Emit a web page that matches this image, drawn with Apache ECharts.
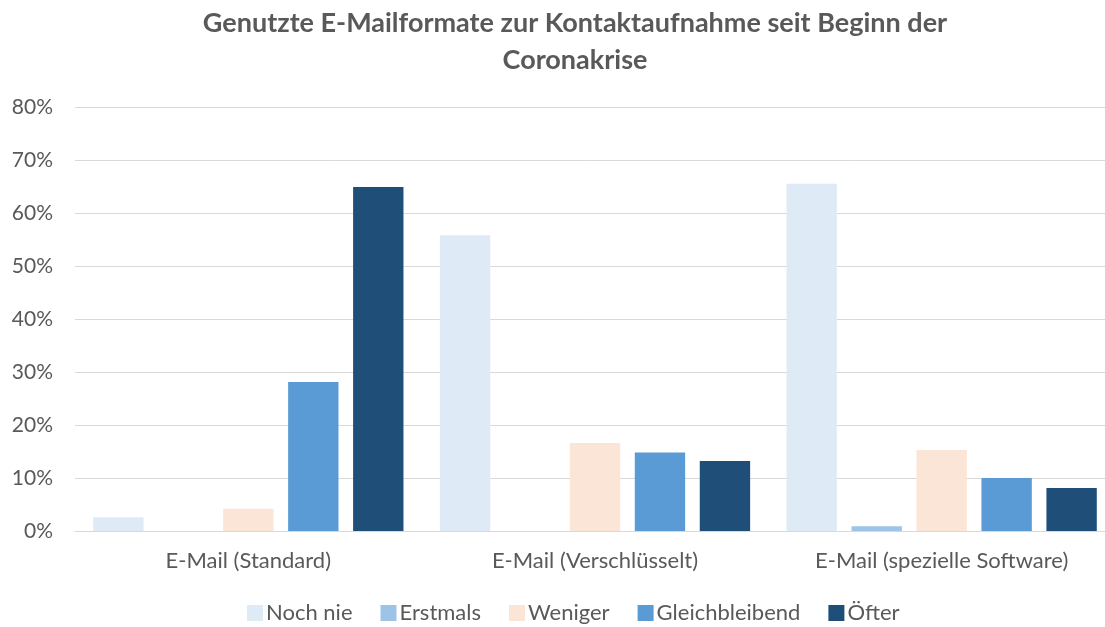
<!DOCTYPE html>
<html>
<head>
<meta charset="utf-8">
<script src="https://cdn.jsdelivr.net/npm/echarts@6/dist/echarts.min.js"></script>
<style>
  html, body { margin: 0; padding: 0; background: #fff; }
  #chart { width: 1105px; height: 627px; }
</style>
</head>
<body>
<div id="chart"></div>
<script>
const categories = ['E-Mail (Standard)', 'E-Mail (Verschlüsselt)', 'E-Mail (spezielle Software)'];
const seriesNames = ['Noch nie', 'Erstmals', 'Weniger', 'Gleichbleibend', 'Öfter'];
const nochNie = [2.6, 55.8, 65.5];
const erstmals = [0, 0, 0.9];
const weniger = [4.2, 16.6, 15.3];
const gleichbleibend = [28.1, 14.8, 10.0];
const oefter = [64.9, 13.2, 8.1];
const yTicks = [0, 10, 20, 30, 40, 50, 60, 70, 80];
const colors = ['#DEEBF7', '#9DC3E6', '#FBE5D6', '#5B9BD5', '#1F4E79'];

const seriesData = [nochNie, erstmals, weniger, gleichbleibend, oefter];
const font = 'Lato, "Open Sans", sans-serif';

let chart = echarts.init(document.getElementById('chart'));
let option = {
    backgroundColor: '#fff',
    animation: false,
    color: colors,
    textStyle: { fontFamily: font },
    title: {
        text: 'Genutzte E-Mailformate zur Kontaktaufnahme seit Beginn der\nCoronakrise',
        left: 570,
        top: 0,
        textAlign: 'center',
        textStyle: {
            fontFamily: font,
            fontSize: 27,
            fontWeight: 'bold',
            color: '#595959',
            lineHeight: 37
        }
    },
    legend: {
        bottom: -2,
        left: 242,
        itemWidth: 16,
        itemHeight: 16,
        itemGap: 28,
        icon: 'rect',
        textStyle: { fontSize: 22, color: '#595959', fontFamily: font, padding: [0, 0, 0, -2] },
        data: seriesNames
    },
    grid: {
        left: 75,
        width: 1040,
        top: 107,
        bottom: 96,
        containLabel: false,
        outerBoundsMode: 'none'
    },
    xAxis: {
        type: 'category',
        data: categories,
        axisLine: { lineStyle: { color: '#D9D9D9', width: 1 } },
        axisTick: { show: false },
        axisLabel: { fontSize: 22, color: '#595959', margin: 19, fontFamily: font }
    },
    yAxis: {
        type: 'value',
        min: 0,
        max: 80,
        interval: 10,
        axisLine: { show: false },
        axisTick: { show: false },
        splitLine: { lineStyle: { color: '#D9D9D9', width: 1 } },
        axisLabel: {
            fontSize: 21,
            color: '#595959',
            margin: 22,
            fontFamily: font,
            formatter: v => yTicks.includes(v) ? v + '%' : ''
        }
    },
    series: seriesNames.map((name, i) => ({
        name: name,
        type: 'bar',
        data: seriesData[i],
        barGap: '29%',
        barCategoryGap: '10.5%',
        itemStyle: { color: colors[i] }
    }))
};

chart.setOption(option);
window.addEventListener('resize', function () {
    chart.resize();
});
</script>
</body>
</html>
